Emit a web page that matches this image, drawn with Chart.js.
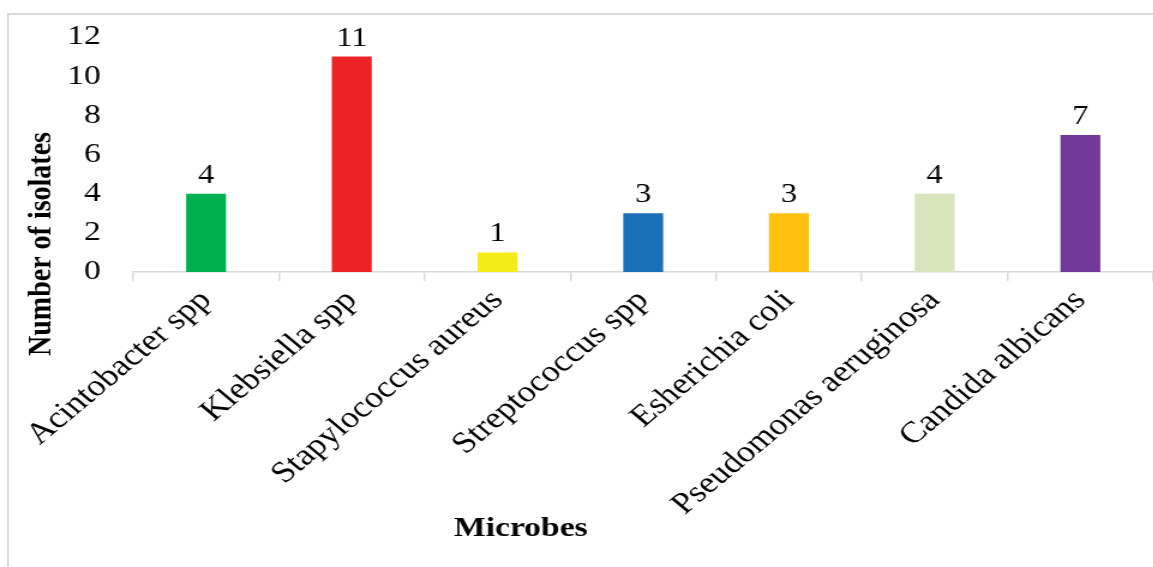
<!DOCTYPE html>
<html>
<head>
<meta charset="utf-8">
<script src="https://cdn.jsdelivr.net/npm/chart.js@4/dist/chart.umd.min.js"></script>
<style>
  body { margin: 0; background: #fff; overflow: hidden; }
  #frame { position: absolute; left: 7px; top: 13px; right: 0; bottom: 0;
           border-left: 2px solid #d9d9d9; border-top: 2px solid #d9d9d9; }
  /* the original figure is stretched sideways, so the chart is drawn narrower and scaled */
  #wrap { position: absolute; left: 0; top: 0; width: 961px; height: 567px;
          transform: scaleX(1.2); transform-origin: 0 0; }
</style>
</head>
<body>
<div id="frame"></div>
<div id="wrap"><canvas id="chart" width="961" height="567"></canvas></div>
<script>
const microbes = ["Acintobacter spp", "Klebsiella spp", "Stapylococcus aureus", "Streptococcus spp",
                  "Esherichia coli", "Pseudomonas aeruginosa", "Candida albicans"];
const isolates = [4, 11, 1, 3, 3, 4, 7];
const barColors = ["#00b050", "#ee2226", "#f4eb1b", "#1b6fb8", "#ffc010", "#d8e4bc", "#70399a"];
const yTicks = [0, 2, 4, 6, 8, 10, 12];

const serif = "'Liberation Serif', 'Times New Roman', serif";

// values above bars + axis titles
const extras = {
  id: "extras",
  afterDatasetsDraw(chart) {
    const ctx = chart.ctx;
    const meta = chart.getDatasetMeta(0);
    ctx.save();
    ctx.fillStyle = "#000";
    ctx.font = "27px " + serif;
    ctx.textAlign = "center";
    ctx.textBaseline = "alphabetic";
    meta.data.forEach((bar, i) => {
      ctx.fillText(String(isolates[i]), bar.x, bar.y - 11);
    });
    ctx.font = "bold 28px " + serif;
    ctx.fillText("Microbes", 434, 536);
    ctx.translate(41.5, 244);
    ctx.rotate(-Math.PI / 2);
    ctx.fillText("Number of isolates", 0, 0);
    ctx.restore();
  }
};

new Chart(document.getElementById("chart"), {
  type: "bar",
  data: {
    labels: microbes,
    datasets: [{
      data: isolates,
      backgroundColor: barColors,
      categoryPercentage: 1,
      barPercentage: 0.274
    }]
  },
  options: {
    responsive: false,
    animation: false,
    layout: { padding: { top: 37, left: 0, right: 0, bottom: 0 } },
    plugins: { legend: { display: false }, tooltip: { enabled: false } },
    scales: {
      x: {
        grid: { display: true, drawOnChartArea: false, offset: true, tickLength: 9, color: "#d9d9d9", lineWidth: 1.5 },
        border: { display: true, color: "#d9d9d9", width: 1.5 },
        ticks: { color: "#000", font: { family: serif, size: 30 }, minRotation: 45, maxRotation: 45, padding: 2 },
        afterFit(scale) { scale.height = 295; scale.paddingTop = 0; scale.paddingBottom = 0; }
      },
      y: {
        min: 0,
        max: 12,
        afterBuildTicks(scale) { scale.ticks = yTicks.map(v => ({ value: v })); },
        grid: { display: false, drawTicks: false },
        border: { display: false },
        ticks: { color: "#000", font: { family: serif, size: 28 }, padding: 27 },
        afterFit(scale) { scale.width = 111; scale.paddingTop = 0; scale.paddingBottom = 0; }
      }
    }
  },
  plugins: [extras]
});
</script>
</body>
</html>
